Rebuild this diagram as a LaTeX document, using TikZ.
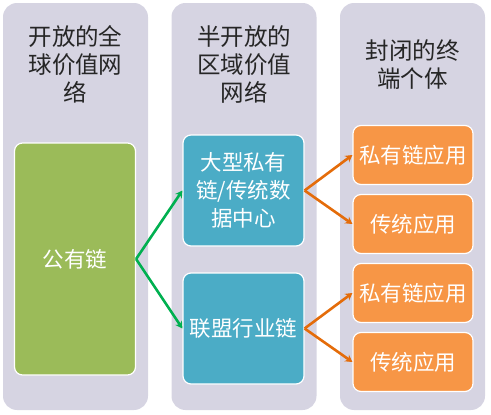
\documentclass[tikz,border=0pt]{standalone}
\usepackage{fontspec}
\setmainfont{Noto Sans CJK SC}
\usetikzlibrary{arrows.meta}
\definecolor{colgray}{RGB}{214,212,226}
\definecolor{boxgreen}{RGB}{155,187,89}
\definecolor{boxblue}{RGB}{75,172,198}
\definecolor{boxorange}{RGB}{247,150,70}
\definecolor{arrgreen}{RGB}{0,176,80}
\definecolor{arrorange}{RGB}{228,108,10}
\tikzset{
  column/.style={fill=colgray,rounded corners=14pt,minimum width=145pt,minimum height=407pt,inner sep=0pt},
  header/.style={align=center,font=\fontsize{23.5}{28}\selectfont,text=black!85},
  box/.style={draw=white,line width=1.2pt,rounded corners=8pt,inner sep=0pt,align=center,text=white,font=\fontsize{21.5}{28}\selectfont},
  greenbox/.style={box,fill=boxgreen,minimum width=121pt,minimum height=232pt},
  bluebox/.style={box,fill=boxblue,minimum width=121pt,minimum height=111pt},
  orangebox/.style={box,fill=boxorange,minimum width=120pt,minimum height=59pt},
  garrow/.style={draw=arrgreen,line width=2.6pt,-{Stealth[length=7pt,width=8pt]}},
  oarrow/.style={draw=arrorange,line width=2.6pt,-{Stealth[length=7pt,width=8pt]}}
}
\begin{document}
\begin{tikzpicture}[x=1pt,y=-1pt]
        \useasboundingbox (0,0) rectangle (491,415);
        % Columns
        \node[column] (col1) at (75.5,206.5) {};
        \node[column] (col2) at (244,206.5) {};
        \node[column] (col3) at (412.5,206.5) {};
        \node[header] (head1) at (75.5,64) {开放的全\\球价值网\\络};
        \node[header] (head2) at (244,64) {半开放的\\区域价值\\网络};
        \node[header] (head3) at (412.5,65) {封闭的终\\端个体};
        % Boxes
        \node[greenbox] (public) at (75,259) {公有链};
        \node[bluebox] (private) at (243.5,190.5) {大型私有\\链/传统数\\据中心};
        \node[bluebox] (alliance) at (243.5,328.5) {联盟行业链};
        \node[orangebox] (app1) at (413,155) {私有链应用};
        \node[orangebox] (app2) at (413,224) {传统应用};
        \node[orangebox] (app3) at (413,293) {私有链应用};
        \node[orangebox] (app4) at (413,362) {传统应用};
        % Arrows
        \draw[garrow] (public.east) -- (private.west);
        \draw[garrow] (public.east) -- (alliance.west);
        \draw[oarrow] (private.east) -- (app1.west);
        \draw[oarrow] (private.east) -- (app2.west);
        \draw[oarrow] (alliance.east) -- (app3.west);
        \draw[oarrow] (alliance.east) -- (app4.west);
      \end{tikzpicture}
\end{document}
